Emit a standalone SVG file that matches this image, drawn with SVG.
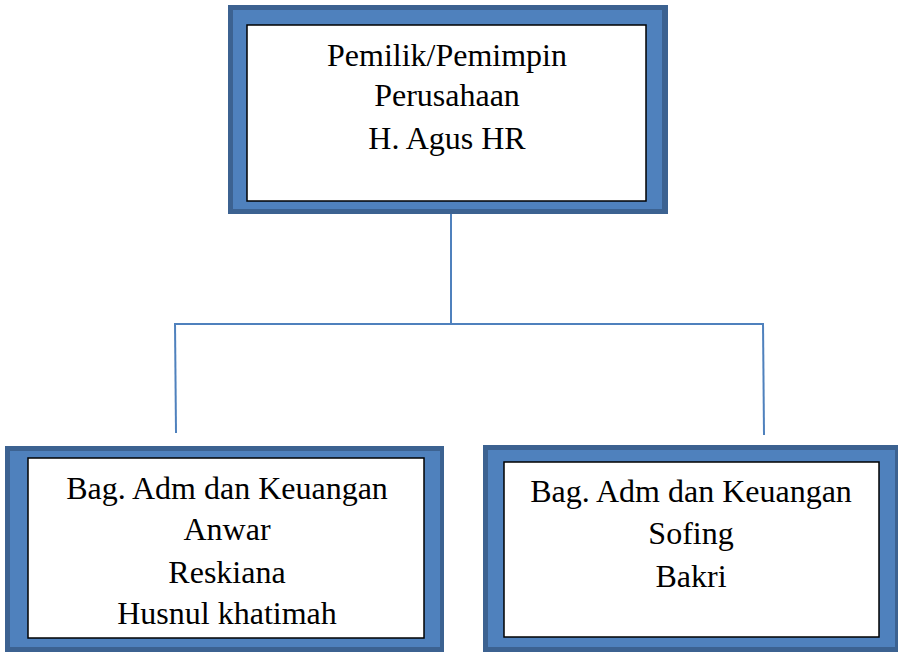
<svg xmlns="http://www.w3.org/2000/svg" width="898" height="652" viewBox="0 0 898 652">
<style>
.outer{fill:#3C6291}
.mid{fill:#4F81BD}
.inner{fill:#FFFFFF;stroke:#000000;stroke-width:1.5}
.t{font-family:"Liberation Serif","Times New Roman",serif;font-size:32px;fill:#000000;text-anchor:middle}
.conn{stroke:#4F81BD;stroke-width:2;fill:none}
</style>
<rect width="898" height="652" fill="#FFFFFF"/>
<g id="connectors">
<line class="conn" x1="451" y1="214" x2="451" y2="324"/>
<line class="conn" x1="174" y1="324" x2="764" y2="324"/>
<line class="conn" x1="175" y1="323" x2="176" y2="433"/>
<line class="conn" x1="763" y1="323" x2="764" y2="435"/>
</g>
<g id="node-top">
<rect class="outer" x="228" y="5" width="440" height="209"/>
<rect class="mid" x="233" y="10" width="429" height="199"/>
<rect class="inner" x="247" y="25" width="399" height="176"/>
<text class="t" x="447" y="66">Pemilik/Pemimpin</text>
<text class="t" x="447" y="106">Perusahaan</text>
<text class="t" x="447" y="149">H. Agus HR</text>
</g>
<g id="node-left">
<rect class="outer" x="5" y="446" width="439" height="214"/>
<rect class="mid" x="10" y="451" width="430" height="196"/>
<rect class="inner" x="28" y="458" width="396" height="180"/>
<text class="t" x="227" y="499">Bag. Adm dan Keuangan</text>
<text class="t" x="227" y="540">Anwar</text>
<text class="t" x="227" y="583">Reskiana</text>
<text class="t" x="227" y="624">Husnul khatimah</text>
</g>
<g id="node-right">
<rect class="outer" x="483" y="445" width="420" height="215"/>
<rect class="mid" x="488" y="450" width="407" height="197"/>
<rect class="inner" x="504" y="462" width="375" height="175"/>
<text class="t" x="691" y="502">Bag. Adm dan Keuangan</text>
<text class="t" x="691" y="544">Sofing</text>
<text class="t" x="691" y="587">Bakri</text>
</g>
</svg>
